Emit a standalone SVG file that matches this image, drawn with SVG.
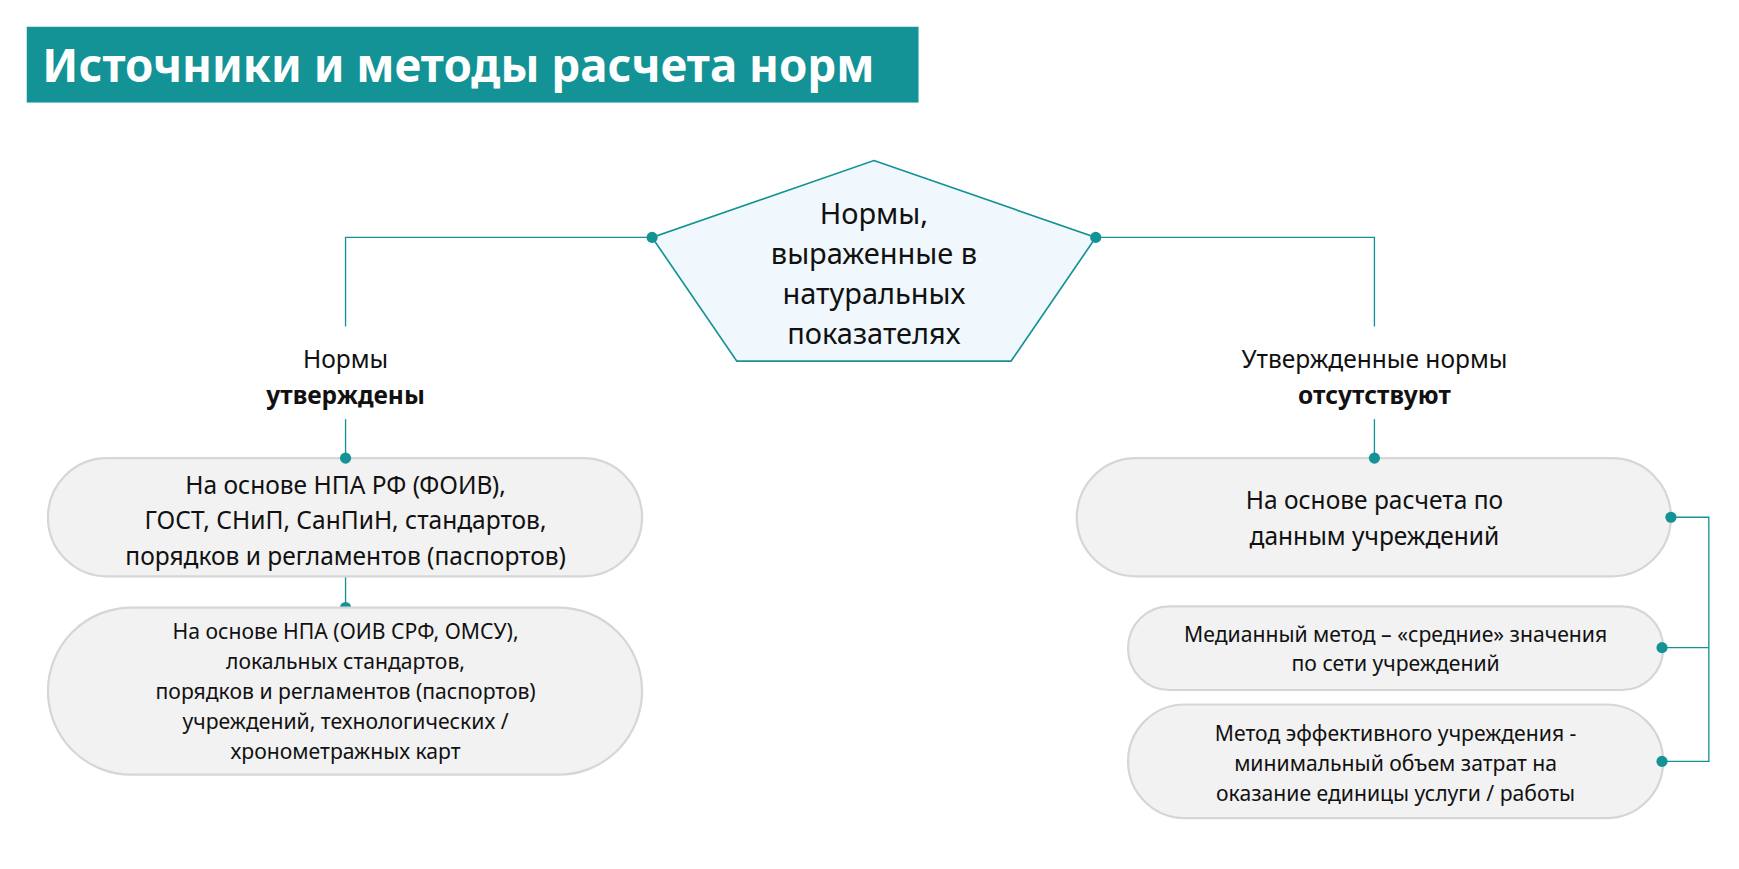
<svg xmlns="http://www.w3.org/2000/svg" width="1739" height="869" viewBox="0 0 1739 869">
<style>
text{font-family:"Noto Sans","Open Sans",sans-serif;fill:#111;text-anchor:middle}
.box{fill:#f2f2f2;stroke:#d6d6d6;stroke-width:2}
.ln{fill:none;stroke:#139396;stroke-width:1.2}
.dot{fill:#139396}
.t22{font-size:22px}.t19{font-size:19px}.b{font-weight:bold}
</style>
<rect width="1739" height="869" fill="#fff"/>
<g transform="scale(1.1147)">
<g id="title"><rect x="24" y="24" width="800" height="68" fill="#139396"/>
<text x="38" y="74" style="font-size:41px;font-weight:bold;fill:#fff;text-anchor:start">Источники и методы расчета норм</text></g>
<g id="connectors">
<polyline class="ln" points="585,213 310,213 310,293"/>
<polyline class="ln" points="983,213 1233,213 1233,293"/>
<line class="ln" x1="310" y1="376" x2="310" y2="411"/>
<line class="ln" x1="310" y1="517" x2="310" y2="545"/>
<line class="ln" x1="1233" y1="376" x2="1233" y2="411"/>
<polyline class="ln" points="1499,464 1533,464 1533,683 1491,683"/>
<line class="ln" x1="1533" y1="581" x2="1491" y2="581"/>
</g>
<g id="center"><polygon points="784,144 983,213 907,324 661,324 585,213" fill="#f0f8fd" stroke="#139396" stroke-width="1.5"/>
<text x="784" y="201" style="font-size:26px">Нормы,</text>
<text x="784" y="237" style="font-size:26px">выраженные в</text>
<text x="784" y="273" style="font-size:26px">натуральных</text>
<text x="784" y="309" style="font-size:26px">показателях</text>
<circle class="dot" cx="585" cy="213" r="5"/><circle class="dot" cx="983" cy="213" r="5"/></g>
<g id="lblLeft"><text class="t22" x="310" y="330">Нормы</text><text class="t22 b" x="310" y="362">утверждены</text></g>
<g id="lblRight"><text class="t22" x="1233" y="330">Утвержденные нормы</text><text class="t22 b" x="1233" y="362">отсутствуют</text></g>
<g id="box1"><rect class="box" x="43" y="411" width="533" height="106" rx="53"/>
<text class="t22" x="310" y="443">На основе НПА РФ (ФОИВ),</text>
<text class="t22" x="310" y="475">ГОСТ, СНиП, СанПиН, стандартов,</text>
<text class="t22" x="310" y="507">порядков и регламентов (паспортов)</text>
<circle class="dot" cx="310" cy="411" r="5"/></g>
<g id="box2"><circle class="dot" cx="310" cy="545" r="5"/><rect class="box" x="43" y="545" width="533" height="150" rx="75"/>
<text class="t19" x="310" y="573">На основе НПА (ОИВ СРФ, ОМСУ),</text>
<text class="t19" x="310" y="600">локальных стандартов,</text>
<text class="t19" x="310" y="627">порядков и регламентов (паспортов)</text>
<text class="t19" x="310" y="654">учреждений, технологических /</text>
<text class="t19" x="310" y="681">хронометражных карт</text></g>
<g id="box3"><rect class="box" x="966" y="411" width="533" height="106" rx="53"/>
<text class="t22" x="1233" y="457">На основе расчета по</text>
<text class="t22" x="1233" y="489">данным учреждений</text>
<circle class="dot" cx="1233" cy="411" r="5"/><circle class="dot" cx="1499" cy="464" r="5"/></g>
<g id="box4"><rect class="box" x="1012" y="544" width="480" height="75" rx="37"/>
<text class="t19" x="1252" y="576">Медианный метод – «средние» значения</text>
<text class="t19" x="1252" y="602">по сети учреждений</text>
<circle class="dot" cx="1491" cy="581" r="5"/></g>
<g id="box5"><rect class="box" x="1012" y="632" width="480" height="102" rx="51"/>
<text class="t19" x="1252" y="665">Метод эффективного учреждения -</text>
<text class="t19" x="1252" y="692">минимальный объем затрат на</text>
<text class="t19" x="1252" y="719">оказание единицы услуги / работы</text>
<circle class="dot" cx="1491" cy="683" r="5"/></g>
</g>
</svg>
